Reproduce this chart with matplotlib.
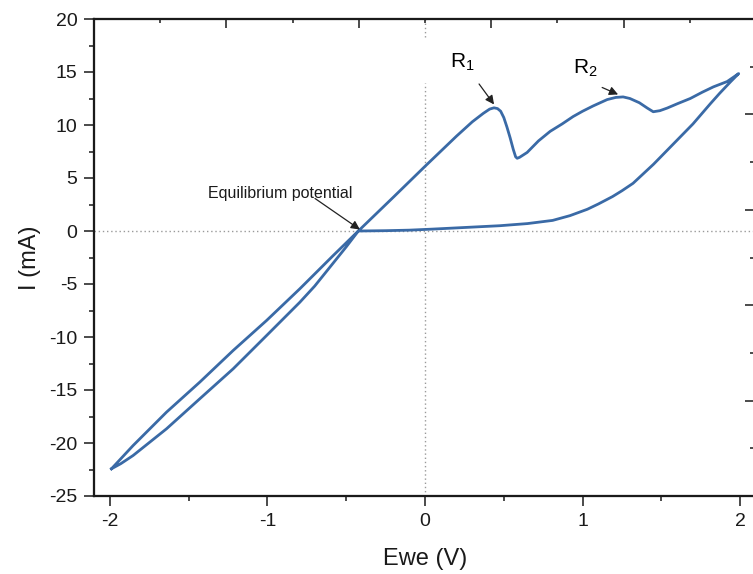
import matplotlib
matplotlib.use("Agg")
import matplotlib.pyplot as plt
from matplotlib.ticker import MultipleLocator

plt.rcParams['font.family'] = ['Liberation Sans', 'DejaVu Sans']
plt.rcParams['mathtext.fontset'] = 'custom'
plt.rcParams['mathtext.rm'] = 'Liberation Sans'
plt.rcParams['mathtext.it'] = 'Liberation Sans'
plt.rcParams['axes.unicode_minus'] = False

# ---- data ----
# cathodic loop, lower line (tip -> equilibrium)
loop_lower_x = [-1.989, -1.930, -1.852, -1.640, -1.429, -1.217, -1.005, -0.794, -0.700, -0.600, -0.500, -0.423]
loop_lower_y = [-22.43, -21.95, -21.18, -18.66, -15.83, -13.00, -9.86, -6.72, -5.20, -3.35, -1.50, 0.0]
# forward (anodic) scan from equilibrium to +2 V
fwd_x = [-0.423, -0.200, 0.000, 0.200, 0.300, 0.370, 0.410, 0.438, 0.460, 0.480, 0.500,
         0.520, 0.540, 0.560, 0.575, 0.585, 0.600, 0.648, 0.720, 0.794, 0.870, 0.940,
         1.000, 1.067, 1.156, 1.210, 1.257, 1.300, 1.360, 1.410, 1.448, 1.490, 1.537,
         1.600, 1.683, 1.760, 1.830, 1.917, 1.990]
fwd_y = [0.0, 3.20, 6.10, 8.95, 10.30, 11.10, 11.50, 11.62, 11.55, 11.30, 10.70,
         9.80, 8.80, 7.70, 7.00, 6.86, 6.95, 7.41, 8.50, 9.40, 10.10, 10.80,
         11.30, 11.80, 12.40, 12.60, 12.65, 12.50, 12.10, 11.60, 11.25, 11.35, 11.60,
         12.00, 12.50, 13.10, 13.60, 14.10, 14.85]
# reverse scan from +2 V back to equilibrium
rev_x = [1.990, 1.940, 1.870, 1.810, 1.700, 1.575, 1.450, 1.320, 1.250, 1.190, 1.100, 1.030,
         0.920, 0.810, 0.650, 0.476, 0.250, 0.050, -0.100, -0.250, -0.423]
rev_y = [14.85, 14.10, 13.00, 12.00, 10.10, 8.20, 6.30, 4.50, 3.80, 3.25, 2.55, 2.05,
         1.45, 1.00, 0.70, 0.50, 0.33, 0.18, 0.08, 0.03, 0.0]
# cathodic loop, upper line (equilibrium -> tip)
loop_upper_x = [-0.423, -0.582, -0.794, -1.005, -1.217, -1.429, -1.640, -1.852, -1.989]
loop_upper_y = [0.0, -2.31, -5.45, -8.44, -11.27, -14.26, -17.09, -20.24, -22.43]

cv_x = loop_lower_x + fwd_x[1:] + rev_x[1:] + loop_upper_x[1:]
cv_y = loop_lower_y + fwd_y[1:] + rev_y[1:] + loop_upper_y[1:]

x_ticks = [-2, -1, 0, 1, 2]
y_ticks = [-25, -20, -15, -10, -5, 0, 5, 10, 15, 20]

line_color = '#3a6aa6'
dark = '#1a1a1a'

fig = plt.figure(figsize=(7.53, 5.74), dpi=100)
ax = fig.add_axes([94 / 753, 78 / 574, 662 / 753, 477 / 574])

ax.set_xlim(-2.1, 2.1)
ax.set_ylim(-25, 20)

# reference dotted lines
ax.axhline(0, color='#9a9a9a', lw=1.0, ls=(0, (1, 2)), zorder=1)
ax.axvline(0, ymin=0.0, ymax=0.866, color='#9a9a9a', lw=1.0, ls=(0, (1, 2)), zorder=1)
ax.axvline(0, ymin=0.962, ymax=1.0, color='#9a9a9a', lw=1.0, ls=(0, (1, 2)), zorder=1)

ax.plot(cv_x, cv_y, color=line_color, lw=2.0, solid_joinstyle='round', zorder=3)

ax.set_xticks(x_ticks)
ax.set_yticks(y_ticks)
ax.xaxis.set_minor_locator(MultipleLocator(0.5))
ax.yaxis.set_minor_locator(MultipleLocator(2.5))
ax.tick_params(which='major', direction='out', length=7, width=1.1, color=dark,
               labelsize=14, labelcolor=dark, pad=5)
ax.tick_params(which='minor', direction='out', length=3.5, width=1.1, color=dark)
for s in ax.spines.values():
    s.set_linewidth(1.5)
    s.set_color(dark)

ax.set_xlabel('Ewe (V)', fontsize=17, color=dark, labelpad=13)
ax.set_ylabel('I (mA)', fontsize=17, color=dark, labelpad=6)

# annotations
arrow_kw = dict(arrowstyle='-|>', color='#222222', lw=0.9, mutation_scale=13,
                shrinkA=0, shrinkB=0)
ax.annotate('', xy=(-0.413, 0.14), xytext=(-0.698, 3.07), arrowprops=arrow_kw)
ax.text(-1.378, 3.11, 'Equilibrium potential', fontsize=11.5, color=dark,
        ha='left', va='baseline')

ax.annotate('', xy=(0.438, 11.94), xytext=(0.343, 13.87), arrowprops=arrow_kw)
ax.text(0.159, 15.42, r'R$_{\mathregular{1}}$', fontsize=15, color='black',
        ha='left', va='baseline')

ax.annotate('', xy=(1.225, 12.88), xytext=(1.124, 13.54), arrowprops=arrow_kw)
ax.text(0.940, 14.86, r'R$_{\mathregular{2}}$', fontsize=15, color='black',
        ha='left', va='baseline')

# extra tick rows seen on the top and right frame
ax_r = ax.twinx()
ax_r.set_ylim(-1, 4)
ax_r.yaxis.set_major_locator(MultipleLocator(1))
ax_r.yaxis.set_minor_locator(MultipleLocator(0.5))
ax_r.tick_params(axis='y', which='major', direction='in', length=8, width=1.1,
                 color=dark, labelright=False)
ax_r.tick_params(axis='y', which='minor', direction='in', length=4.3, width=1.1,
                 color=dark)

ax_t = ax.twiny()
ax_t.set_xlim(-1, 4)
ax_t.xaxis.set_major_locator(MultipleLocator(1))
ax_t.xaxis.set_minor_locator(MultipleLocator(0.5))
ax_t.tick_params(axis='x', which='major', direction='in', length=6.5, width=1.1,
                 color=dark, labeltop=False)
ax_t.tick_params(axis='x', which='minor', direction='in', length=3.2, width=1.1,
                 color=dark)
for a in (ax_r, ax_t):
    for s in a.spines.values():
        s.set_linewidth(1.5)
        s.set_color(dark)

fig.savefig('out.png', dpi=100)
